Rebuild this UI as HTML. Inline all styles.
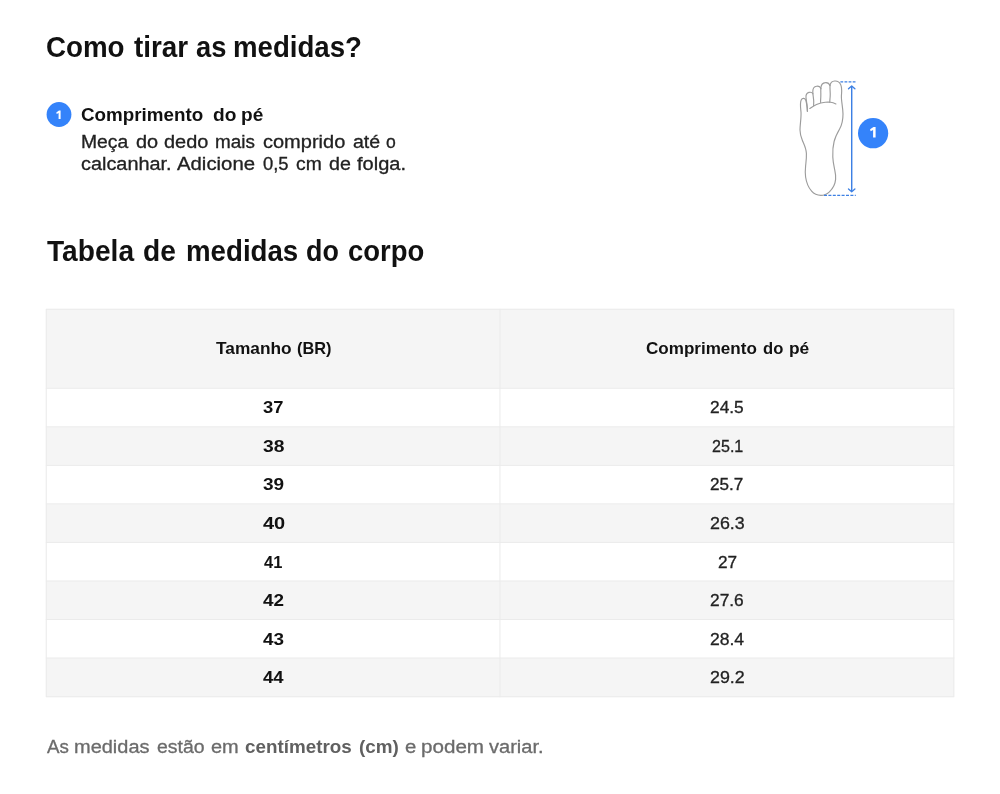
<!DOCTYPE html>
<html><head><meta charset="utf-8">
<style>
html,body{margin:0;padding:0;background:#fff;}
body{width:1000px;height:794px;position:relative;overflow:hidden;font-family:"Liberation Sans",sans-serif;}
.w{position:absolute;white-space:nowrap;line-height:1;transform-origin:0 0;display:block;}

.n{-webkit-text-stroke:0.3px currentColor;}
svg{position:absolute;overflow:visible;}
.txt{position:absolute;left:0;top:0;width:1000px;height:794px;filter:grayscale(1);}
</style></head><body>
<svg style="left:0;top:0" width="1000" height="794" viewBox="0 0 1000 794">
<rect x="45.8" y="308.8" width="908.50" height="388.40" fill="#f5f5f5"/>
<rect x="45.8" y="388.30" width="908.50" height="38.53" fill="#fff"/>
<rect x="45.8" y="465.36" width="908.50" height="38.53" fill="#fff"/>
<rect x="45.8" y="542.42" width="908.50" height="38.53" fill="#fff"/>
<rect x="45.8" y="619.48" width="908.50" height="38.53" fill="#fff"/>
<g stroke="#ebebeb" stroke-width="1" fill="none">
<path d="M45.8 388.30 H954.3"/><path d="M45.8 426.83 H954.3"/><path d="M45.8 465.36 H954.3"/><path d="M45.8 503.89 H954.3"/><path d="M45.8 542.42 H954.3"/><path d="M45.8 580.95 H954.3"/><path d="M45.8 619.48 H954.3"/><path d="M45.8 658.01 H954.3"/>
<path d="M499.95 308.8 V697.2"/>
<rect x="46.3" y="309.3" width="907.50" height="387.40"/>
</g>

<g fill="none" stroke="#9c9c9c" stroke-width="1.15" stroke-linecap="round" stroke-linejoin="round">
<!-- outer outline: start at pinky toe right-bottom, go around -->
<path d="M807.4 111.3 C807 106.5 806.6 102 805.6 99.8 C804.6 97.7 802.2 97.9 801.2 100 C799.8 103 800.6 108 801 112 C801.4 118 800 124 800 130 C800 134 801 137 802.4 140.5 C804.2 144.8 806.2 148.5 806.4 153.5 C806.6 158 806 162 805.6 166 C805.2 170 805 173 805.6 177 C806.4 182.5 808.4 187.5 811.6 191.2 C814.2 194.2 817.2 195.4 820.9 195.4 C824.2 195.4 826.8 194.2 829.4 191.8 C832.6 188.8 835.2 184 835.6 179.4 C836 175 835.2 172 834.5 168.8 C833.8 165.5 833 162 832.8 157 C832.6 152 832.8 146.5 834.1 141.5 C835.4 136.5 837.6 132.5 839.6 129 C841.6 125.5 843 120 843 114 C843 108 841.2 101 841.4 96 C841.6 92 842.4 88 840.6 84.4 C839.2 81.6 836.8 80.8 834.6 81 C832.2 81.2 830.6 82.6 830 85.2"/>
<!-- big toe left side going down -->
<path d="M830 85.2 C829.8 89 830.4 92 830.2 96 C830.1 98.5 829.7 100.5 829.8 102.3"/>
<!-- 2nd toe -->
<path d="M830 85.6 C829.2 83.4 827.4 82.4 825.4 82.6 C822.8 82.8 821.2 84.8 820.9 87.8 C820.6 91 821 94 820.8 97 C820.7 99 820.5 100.8 820.6 102.4"/>
<!-- 3rd toe -->
<path d="M821 88.8 C820.4 87 818.6 86 816.6 86.2 C814.2 86.4 812.8 88.6 812.8 91.6 C812.8 95 813.6 98 813.7 101 C813.8 102.8 813.6 104.2 813.6 105.4"/>
<!-- 4th toe -->
<path d="M813 93.8 C812.2 92.6 810.6 92 809 92.4 C807 92.9 805.8 95 806 97.6 C806.2 100 806.6 102 807 104.5 C807.4 107 807.5 109.2 807.4 111.3"/>
<!-- ball crease -->
<path d="M809.8 108.5 C812 107 814 105.6 816.5 104.4 C819.4 103.1 822.2 102.4 825.3 102.2 C827.2 102.1 829 102.1 830.6 102.2 C832.6 102.4 834.4 103.2 835.9 104"/>
</g>
<g stroke="#3d80e4" fill="none">
<path d="M840.4 81.8 H855.8" stroke-width="1.3" stroke-dasharray="2.8 1.3"/>
<path d="M824 195.3 H855.8" stroke-width="1.3" stroke-dasharray="3 1.4"/>
<path d="M851.7 86.4 V191" stroke-width="1.45"/>
<path d="M848.5 88.8 L851.7 85.9 L854.9 88.8" stroke-width="1.35" stroke-linecap="round" stroke-linejoin="round"/>
<path d="M848.5 189 L851.7 191.7 L854.9 189" stroke-width="1.35" stroke-linecap="round" stroke-linejoin="round"/>
</g>
<circle cx="59" cy="114.5" r="12.4" fill="#3483fa"/>
<circle cx="873.1" cy="133.2" r="15.1" fill="#3483fa"/>
<path d="M875.6 126.9 V137.4 H873.1 V130 L870.6 131.3 L870.1 129.3 L873.5 126.9 Z" fill="#fff"/>
<path d="M60.6 110.6 V119 H58.6 V113.1 L56.7 114.1 L56.3 112.5 L59 110.6 Z" fill="#fff"/>
</svg>

<div class="txt">
<span class="w" style="left:46.04px;top:33px;font-size:28.8px;font-weight:bold;color:#111;transform:scaleX(0.9626)">Como</span>
<span class="w" style="left:134.00px;top:33px;font-size:28.8px;font-weight:bold;color:#111;transform:scaleX(0.9675)">tirar</span>
<span class="w" style="left:195.60px;top:33px;font-size:28.8px;font-weight:bold;color:#111;transform:scaleX(0.9479)">as</span>
<span class="w" style="left:232.64px;top:33px;font-size:28.8px;font-weight:bold;color:#111;transform:scaleX(0.9588)">medidas?</span>
<span class="w" style="left:81.20px;top:107px;font-size:17.8px;font-weight:bold;color:#111;transform:scaleX(1.0569)">Comprimento</span>
<span class="w" style="left:212.50px;top:107px;font-size:17.8px;font-weight:bold;color:#111;transform:scaleX(1.0749)">do</span>
<span class="w" style="left:241.43px;top:107px;font-size:17.8px;font-weight:bold;color:#111;transform:scaleX(1.0724)">pé</span>
<span class="w n" style="left:80.50px;top:134px;font-size:17.6px;font-weight:normal;color:#222;transform:scaleX(1.0986)">Meça</span>
<span class="w n" style="left:135.60px;top:134px;font-size:17.6px;font-weight:normal;color:#222;transform:scaleX(1.1322)">do</span>
<span class="w n" style="left:164.40px;top:134px;font-size:17.6px;font-weight:normal;color:#222;transform:scaleX(1.1333)">dedo</span>
<span class="w n" style="left:214.93px;top:134px;font-size:17.6px;font-weight:normal;color:#222;transform:scaleX(1.0729)">mais</span>
<span class="w n" style="left:262.50px;top:134px;font-size:17.6px;font-weight:normal;color:#222;transform:scaleX(1.1368)">comprido</span>
<span class="w n" style="left:352.50px;top:134px;font-size:17.6px;font-weight:normal;color:#222;transform:scaleX(1.1110)">até</span>
<span class="w n" style="left:386.00px;top:134px;font-size:17.6px;font-weight:normal;color:#222;transform:scaleX(1.0000)">o</span>
<span class="w n" style="left:81.00px;top:156px;font-size:17.6px;font-weight:normal;color:#222;transform:scaleX(1.1297)">calcanhar.</span>
<span class="w n" style="left:177.40px;top:156px;font-size:17.6px;font-weight:normal;color:#222;transform:scaleX(1.1559)">Adicione</span>
<span class="w n" style="left:263.00px;top:156px;font-size:17.6px;font-weight:normal;color:#222;transform:scaleX(1.0457)">0,5</span>
<span class="w n" style="left:296.00px;top:156px;font-size:17.6px;font-weight:normal;color:#222;transform:scaleX(1.0966)">cm</span>
<span class="w n" style="left:329.00px;top:156px;font-size:17.6px;font-weight:normal;color:#222;transform:scaleX(1.1179)">de</span>
<span class="w n" style="left:357.00px;top:156px;font-size:17.6px;font-weight:normal;color:#222;transform:scaleX(1.1388)">folga.</span>
<span class="w" style="left:47.20px;top:237px;font-size:28.8px;font-weight:bold;color:#111;transform:scaleX(0.9770)">Tabela</span>
<span class="w" style="left:143.42px;top:237px;font-size:28.8px;font-weight:bold;color:#111;transform:scaleX(0.9788)">de</span>
<span class="w" style="left:185.74px;top:237px;font-size:28.8px;font-weight:bold;color:#111;transform:scaleX(0.9607)">medidas</span>
<span class="w" style="left:306.07px;top:237px;font-size:28.8px;font-weight:bold;color:#111;transform:scaleX(0.9318)">do</span>
<span class="w" style="left:348.35px;top:237px;font-size:28.8px;font-weight:bold;color:#111;transform:scaleX(0.9528)">corpo</span>
<span class="w" style="left:215.80px;top:340px;font-size:16.2px;font-weight:bold;color:#111;transform:scaleX(1.0683)">Tamanho</span>
<span class="w" style="left:297.20px;top:340px;font-size:16.2px;font-weight:bold;color:#111;transform:scaleX(1.0097)">(BR)</span>
<span class="w" style="left:646.00px;top:340px;font-size:16.2px;font-weight:bold;color:#111;transform:scaleX(1.0538)">Comprimento</span>
<span class="w" style="left:763.20px;top:340px;font-size:16.2px;font-weight:bold;color:#111;transform:scaleX(1.0257)">do</span>
<span class="w" style="left:788.53px;top:340px;font-size:16.2px;font-weight:bold;color:#111;transform:scaleX(1.0733)">pé</span>
<span class="w" style="left:263.30px;top:399px;font-size:16.4px;font-weight:bold;color:#111;transform:scaleX(1.1206)">37</span>
<span class="w n" style="left:710.20px;top:399px;font-size:16.4px;font-weight:normal;color:#222;transform:scaleX(1.0571)">24.5</span>
<span class="w" style="left:262.90px;top:438px;font-size:16.4px;font-weight:bold;color:#111;transform:scaleX(1.1758)">38</span>
<span class="w n" style="left:711.60px;top:438px;font-size:16.4px;font-weight:normal;color:#222;transform:scaleX(0.9816)">25.1</span>
<span class="w" style="left:263.00px;top:476px;font-size:16.4px;font-weight:bold;color:#111;transform:scaleX(1.1592)">39</span>
<span class="w n" style="left:710.20px;top:476px;font-size:16.4px;font-weight:normal;color:#222;transform:scaleX(1.0445)">25.7</span>
<span class="w" style="left:262.70px;top:515px;font-size:16.4px;font-weight:bold;color:#111;transform:scaleX(1.2199)">40</span>
<span class="w n" style="left:710.20px;top:515px;font-size:16.4px;font-weight:normal;color:#222;transform:scaleX(1.0886)">26.3</span>
<span class="w" style="left:264.00px;top:554px;font-size:16.4px;font-weight:bold;color:#111;transform:scaleX(1.0047)">41</span>
<span class="w n" style="left:718.00px;top:554px;font-size:16.4px;font-weight:normal;color:#222;transform:scaleX(1.0488)">27</span>
<span class="w" style="left:262.70px;top:592px;font-size:16.4px;font-weight:bold;color:#111;transform:scaleX(1.1537)">42</span>
<span class="w n" style="left:710.20px;top:592px;font-size:16.4px;font-weight:normal;color:#222;transform:scaleX(1.0571)">27.6</span>
<span class="w" style="left:262.70px;top:631px;font-size:16.4px;font-weight:bold;color:#111;transform:scaleX(1.1537)">43</span>
<span class="w n" style="left:710.20px;top:631px;font-size:16.4px;font-weight:normal;color:#222;transform:scaleX(1.0697)">28.4</span>
<span class="w" style="left:262.70px;top:669px;font-size:16.4px;font-weight:bold;color:#111;transform:scaleX(1.1247)">44</span>
<span class="w n" style="left:709.60px;top:669px;font-size:16.4px;font-weight:normal;color:#222;transform:scaleX(1.0886)">29.2</span>
<span class="w n" style="left:46.50px;top:739px;font-size:17.6px;font-weight:normal;color:#6b6b6b;transform:scaleX(1.0658)">As</span>
<span class="w n" style="left:73.96px;top:739px;font-size:17.6px;font-weight:normal;color:#6b6b6b;transform:scaleX(1.1354)">medidas</span>
<span class="w n" style="left:156.50px;top:739px;font-size:17.6px;font-weight:normal;color:#6b6b6b;transform:scaleX(1.1051)">estão</span>
<span class="w n" style="left:211.00px;top:739px;font-size:17.6px;font-weight:normal;color:#6b6b6b;transform:scaleX(1.1352)">em</span>
<span class="w" style="left:245.00px;top:739px;font-size:17.6px;font-weight:bold;color:#606060;transform:scaleX(1.0706)">centímetros</span>
<span class="w" style="left:359.40px;top:739px;font-size:17.6px;font-weight:bold;color:#606060;transform:scaleX(1.0720)">(cm)</span>
<span class="w n" style="left:405.20px;top:739px;font-size:17.6px;font-weight:normal;color:#6b6b6b;transform:scaleX(1.1556)">e</span>
<span class="w n" style="left:420.53px;top:739px;font-size:17.6px;font-weight:normal;color:#6b6b6b;transform:scaleX(1.1719)">podem</span>
<span class="w n" style="left:489.20px;top:739px;font-size:17.6px;font-weight:normal;color:#6b6b6b;transform:scaleX(1.1399)">variar.</span>
</div>
</body></html>
